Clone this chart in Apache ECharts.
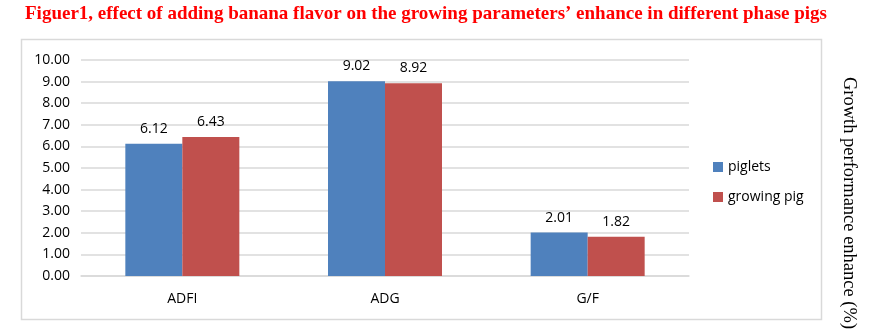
<!DOCTYPE html>
<html><head><meta charset="utf-8">
<script src="https://cdn.jsdelivr.net/npm/echarts@6/dist/echarts.min.js"></script>
<style>html,body{margin:0;padding:0;background:#fff}#c{width:882px;height:336px}</style>
</head><body><div id="c"></div>
<script>
const categories = ['ADFI', 'ADG', 'G/F'];
const piglets = [6.12, 9.02, 2.01];
const growingPig = [6.43, 8.92, 1.82];
const seriesNames = ['piglets', 'growing pig'];
const titleText = 'Figuer1, effect of adding banana flavor on the growing parameters\u2019 enhance in different phase pigs';
const yAxisName = 'Growth performance enhance (%)';

const chart = echarts.init(document.getElementById('c'));
const FONT = 'Open Sans';
const labelStyle = {show: true, position: 'top', formatter: p => p.value.toFixed(2), color: '#000', fontSize: 14, fontFamily: FONT, distance: 8};
chart.setOption({
  animation: false,
  graphic: [
    {type: 'rect', shape: {x: 21.5, y: 39.5, width: 800, height: 280}, style: {fill: 'none', stroke: '#D9D9D9', lineWidth: 1.5}},
    {type: 'text', x: 426, y: 14, style: {text: titleText, fill: '#FF0000', font: 'bold 19px "Liberation Serif"', textAlign: 'center', textVerticalAlign: 'middle'}},
    {type: 'text', x: 849, y: 203, rotation: -Math.PI / 2, style: {text: yAxisName, fill: '#000', font: '18.5px "Liberation Serif"', textAlign: 'center', textVerticalAlign: 'middle'}}
  ],
  legend: {
    orient: 'vertical', left: 708, top: 155, itemWidth: 10, itemHeight: 10, itemGap: 16,
    data: seriesNames, icon: 'rect',
    textStyle: {color: '#000', fontSize: 14, fontFamily: FONT}
  },
  grid: {left: 81, right: 193, top: 60, bottom: 60, containLabel: false},
  xAxis: {
    type: 'category', data: categories,
    axisLine: {lineStyle: {color: '#D9D9D9', width: 1.5}}, axisTick: {show: false},
    axisLabel: {color: '#000', fontSize: 14, fontFamily: FONT, margin: 16}
  },
  yAxis: {
    type: 'value', min: 0, max: 10, interval: 1,
    axisLine: {show: false}, axisTick: {show: false},
    axisLabel: {color: '#000', fontSize: 14, fontFamily: FONT, formatter: v => v.toFixed(2), margin: 11},
    splitLine: {lineStyle: {color: '#D9D9D9', width: 1.5}}
  },
  series: [
    {name: seriesNames[0], type: 'bar', data: piglets, barWidth: 57, barGap: '0%', itemStyle: {color: '#4F81BD'}, label: labelStyle},
    {name: seriesNames[1], type: 'bar', data: growingPig, barWidth: 57, barGap: '0%', itemStyle: {color: '#C0504D'}, label: labelStyle}
  ]
});
</script></body></html>
